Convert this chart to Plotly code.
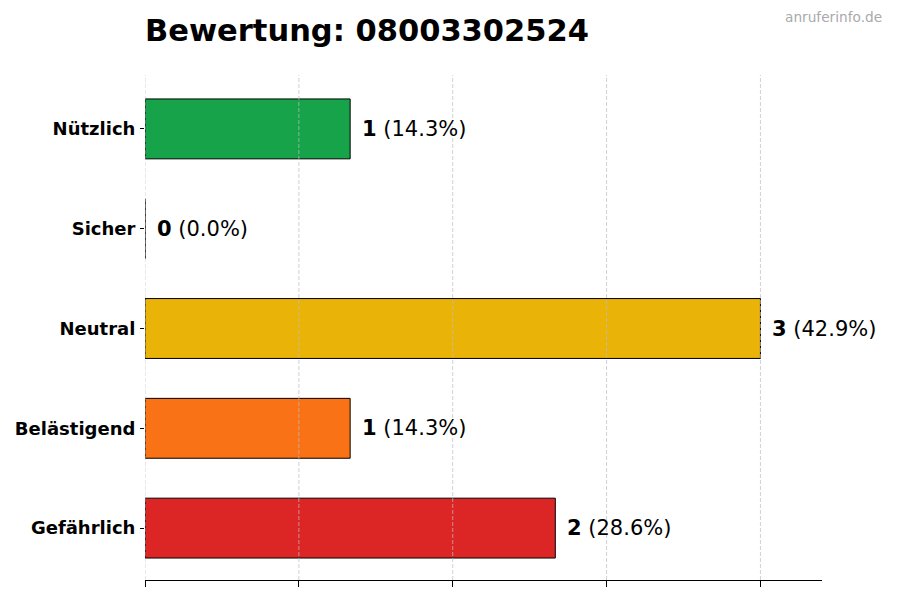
import plotly.graph_objects as go

# Bewertungen pro Kategorie (von oben nach unten)
kategorien = ['Nützlich', 'Sicher', 'Neutral', 'Belästigend', 'Gefährlich']
anzahl = [1, 0, 3, 1, 2]
farben = ['#16a34a', '#22c55e', '#eab308', '#f97316', '#dc2626']
x_ticks = [0, 0.75, 1.5, 2.25, 3.0]

gesamt = sum(anzahl)
fig = go.Figure()

fig.add_trace(go.Bar(
    x=anzahl, y=kategorien, orientation='h', width=0.6,
    marker=dict(color=farben, line=dict(color='black', width=1)),
    hoverinfo='skip',
))

# Beschriftung rechts neben den Balken
for kat, n in zip(kategorien, anzahl):
    fig.add_annotation(
        x=n, y=kat, xref='x', yref='y', xanchor='left', yanchor='middle',
        xshift=10, showarrow=False,
        text=f'<b>{n}</b> ({n / gesamt * 100:.1f}%)',
        font=dict(family='DejaVu Sans', size=21, color='black'),
    )

# Gitterlinien ueber den Balken (wie im Original)
for t in x_ticks:
    fig.add_shape(type='line', xref='x', yref='paper', x0=t, x1=t, y0=0, y1=1,
                  layer='above', line=dict(color='rgba(190,190,190,0.7)', width=1, dash='4px,2px'))

# Seite hat 8px Rand -> Plotflaeche entsprechend verschoben
fig.add_annotation(
    x=1 + (876 - 814) / 677, y=1 + (67 - 9) / 505, xref='paper', yref='paper',
    xanchor='right', yanchor='middle', showarrow=False,
    text='anruferinfo.de', font=dict(family='DejaVu Sans', size=13.7, color='#aaaaaa'),
)

fig.update_layout(
    width=900, height=600,
    margin=dict(l=137, r=86, t=67, b=28),
    plot_bgcolor='white', paper_bgcolor='white',
    showlegend=False,
    title=dict(text='<b>Bewertung: 08003302524</b>', x=137 / 900, xanchor='left',
               y=1 - 22 / 600, yanchor='middle',
               font=dict(family='DejaVu Sans', size=30.5, color='black')),
    xaxis=dict(range=[0, 3.3], tickvals=x_ticks, ticktext=['' for _ in x_ticks],
               showgrid=False, showline=True, linecolor='black', linewidth=1,
               ticks='outside', ticklen=6, tickcolor='black', zeroline=False,
               automargin=False),
    yaxis=dict(range=[4.52, -0.54], autorange=False, showgrid=False, zeroline=False,
               ticks='outside', ticklen=4, tickcolor='black', ticklabelstandoff=1,
               tickvals=kategorien, ticktext=[f'<b>{k}</b>' for k in kategorien],
               tickfont=dict(family='DejaVu Sans', size=18, color='black'),
               automargin=False),
)

fig.write_html('out.html')
